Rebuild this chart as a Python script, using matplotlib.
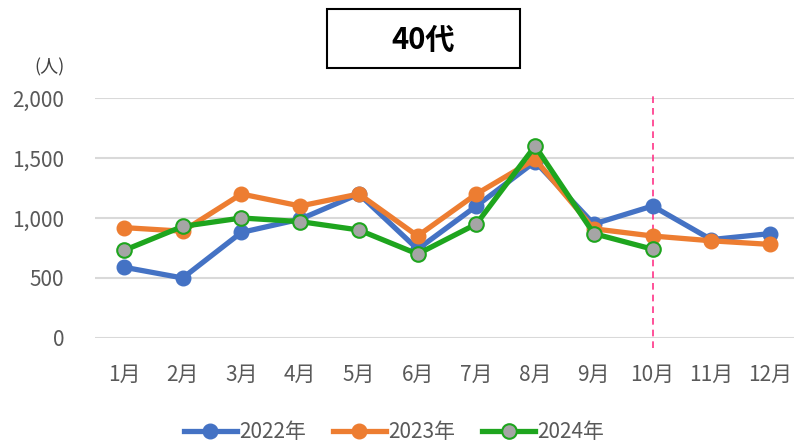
import matplotlib.pyplot as plt
from matplotlib.patches import Rectangle

plt.rcParams['font.family'] = ['Noto Sans CJK JP', 'DejaVu Sans']

months = ['1月', '2月', '3月', '4月', '5月', '6月', '7月', '8月', '9月', '10月', '11月', '12月']
y2022 = [590, 500, 880, 990, 1200, 740, 1100, 1470, 950, 1100, 820, 870]
y2023 = [920, 890, 1200, 1100, 1200, 850, 1200, 1490, 910, 850, 810, 780]
y2024 = [730, 930, 1000, 970, 900, 700, 950, 1600, 870, 740]
yticks = [0, 500, 1000, 1500, 2000]
title = '40代'
marker_month = 9  # 10月

fig = plt.figure(figsize=(7.94, 4.45), dpi=100)
ax = fig.add_axes([94.6 / 794, (445 - 338) / 445, 704.8 / 794, 240 / 445])

x = list(range(len(months)))
ax.plot(x, y2022, color='#4472C4', lw=3.8, marker='o', ms=10.5, label='2022年', zorder=3)
ax.plot(x, y2023, color='#ED7D31', lw=3.8, marker='o', ms=10.5, label='2023年', zorder=4)
ax.plot(x[:len(y2024)], y2024, color='#1EA51E', lw=3.8, marker='o', ms=10.5,
        markerfacecolor='#A5A5A5', markeredgecolor='#1EA51E', markeredgewidth=1.5,
        label='2024年', zorder=5)

ax.axvline(marker_month, ymin=-0.042, ymax=1.025, color='#FF3388', lw=1.2,
           ls=(0, (4, 3)), clip_on=False, zorder=2)

ax.set_xlim(-0.5, len(months) - 0.5)
ax.set_ylim(0, 2000)
ax.set_yticks(yticks)
ax.set_yticklabels([f'{v:,}' for v in yticks])
ax.set_xticks(x)
ax.set_xticklabels(months)
ax.grid(axis='y', color='#D9D9D9', lw=1.5)
ax.set_axisbelow(True)
for s in ax.spines.values():
    s.set_visible(False)
ax.tick_params(length=0, labelsize=15, colors='#595959')
ax.tick_params(axis='y', pad=22)
ax.tick_params(axis='x', pad=19)

fig.text(50 / 794, 1 - 67 / 445, '(人)', fontsize=13, color='#404040', ha='center', va='center')

fig.patches.append(Rectangle((327 / 794, 1 - 68 / 445), 193 / 794, 59 / 445,
                             transform=fig.transFigure, fill=False, ec='black', lw=1.5))
fig.text(423 / 794, 1 - 40 / 445, title, fontsize=21, fontweight='bold',
         ha='center', va='center')

fig.legend(loc='center', bbox_to_anchor=(394 / 794, 1 - 432 / 445), ncol=3, frameon=False,
           fontsize=15, labelcolor='#595959', handlelength=2.55, columnspacing=1.3,
           handletextpad=0.1)

fig.savefig('out.png', dpi=100)
